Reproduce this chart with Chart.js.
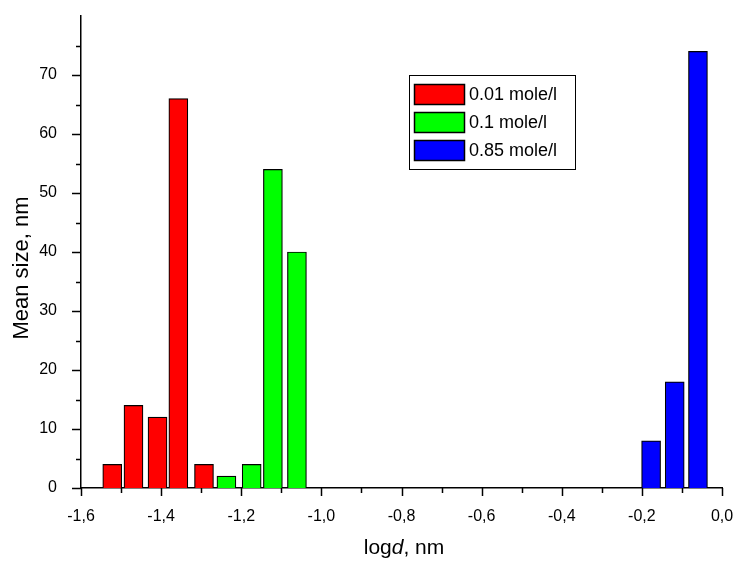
<!DOCTYPE html>
<html>
<head>
<meta charset="utf-8">
<script src="https://cdn.jsdelivr.net/npm/chart.js@4"></script>
<style>
  html, body { margin: 0; padding: 0; background: #fff; }
  #wrap { width: 736px; height: 562px; }
</style>
</head>
<body>
<div id="wrap"><canvas id="myChart" width="736" height="562"></canvas></div>
<script>
// log d positions (bar centres) and mean sizes
const redX = [-1.522, -1.469, -1.409, -1.357, -1.293];
const redY = [4, 14, 12, 66, 4];
const greenX = [-1.237, -1.174, -1.121, -1.061];
const greenY = [2, 4, 54, 40];
const blueX = [-0.177, -0.118, -0.060];
const blueY = [8, 18, 74];
const seriesNames = ['0.01 mole/l', '0.1 mole/l', '0.85 mole/l'];
const xTicks = [-1.6, -1.4, -1.2, -1.0, -0.8, -0.6, -0.4, -0.2, 0.0];
const yTicks = [0, 10, 20, 30, 40, 50, 60, 70];

const FONT = 'Liberation Sans, Arial, sans-serif';

function pts(xs, ys) {
    return xs.map((x, i) => ({ x: x, y: ys[i] }));
}

// axis ticks (major + minor), axis titles, legend box
const decorations = {
    id: 'decorations',
    afterDraw(chart) {
        const c = chart.ctx;
        const xs = chart.scales.x, ys = chart.scales.y;
        const area = chart.chartArea;
        c.save();
        c.strokeStyle = '#000';
        c.lineWidth = 1.5;
        for (let i = 0; i <= 16; i++) {
            const v = -1.6 + i * 0.1;
            const px = Math.round(xs.getPixelForValue(v)) + 0.5;
            const len = i % 2 === 0 ? 8 : 5;
            c.beginPath();
            c.moveTo(px, area.bottom);
            c.lineTo(px, area.bottom + len);
            c.stroke();
        }
        for (let i = 0; i <= 15; i++) {
            const py = Math.round(ys.getPixelForValue(i * 5)) + 0.5;
            const len = i % 2 === 0 ? 9 : 5;
            c.beginPath();
            c.moveTo(area.left, py);
            c.lineTo(area.left - len, py);
            c.stroke();
        }

        // x title with italic d
        c.fillStyle = '#000';
        c.textBaseline = 'middle';
        const fx = '21px ' + FONT, fxi = 'italic 21px ' + FONT;
        c.font = fx;
        const w1 = c.measureText('log').width, w3 = c.measureText(', nm').width;
        c.font = fxi;
        const w2 = c.measureText('d').width;
        const x0 = 404 - (w1 + w2 + w3) / 2;
        const ty = 548;
        c.textAlign = 'left';
        c.font = fx;
        c.fillText('log', x0, ty);
        c.font = fxi;
        c.fillText('d', x0 + w1, ty);
        c.font = fx;
        c.fillText(', nm', x0 + w1 + w2, ty);

        // y title
        c.save();
        c.translate(22, 268);
        c.rotate(-Math.PI / 2);
        c.textAlign = 'center';
        c.font = '22px ' + FONT;
        c.fillText('Mean size, nm', 0, 0);
        c.restore();

        // legend
        c.lineWidth = 1;
        c.strokeRect(409.5, 75.5, 166, 94);
        c.font = '18px ' + FONT;
        c.textAlign = 'left';
        chart.data.datasets.forEach((ds, i) => {
            const sy = 84 + i * 28;
            c.fillStyle = ds.backgroundColor;
            c.fillRect(414, sy, 50, 20);
            c.strokeStyle = '#000';
            c.lineWidth = 1.5;
            c.strokeRect(414.5, sy + 0.5, 50, 20);
            c.fillStyle = '#000';
            c.fillText(ds.label, 469, sy + 11);
        });
        c.restore();
    }
};

const ctx = document.getElementById('myChart').getContext('2d');
const myChart = new Chart(ctx, {
    type: 'bar',
    data: {
        datasets: [{
            label: seriesNames[0],
            data: pts(redX, redY),
            backgroundColor: '#ff0000',
            borderColor: '#000',
            borderWidth: 1.2
        }, {
            label: seriesNames[1],
            data: pts(greenX, greenY),
            backgroundColor: '#00ff00',
            borderColor: '#000',
            borderWidth: 1.2
        }, {
            label: seriesNames[2],
            data: pts(blueX, blueY),
            backgroundColor: '#0000ff',
            borderColor: '#000',
            borderWidth: 1.2
        }]
    },
    options: {
        responsive: false,
        animation: false,
        devicePixelRatio: 1,
        grouped: false,
        barThickness: 19,
        layout: { padding: { top: 16, right: 14, left: 0, bottom: 0 } },
        plugins: {
            legend: { display: false },
            tooltip: { enabled: false }
        },
        scales: {
            x: {
                type: 'linear',
                offset: false,
                min: -1.6,
                max: 0,
                afterFit(scale) {
                    scale.height = 74;
                    scale.paddingLeft = 0;
                    scale.paddingRight = 0;
                },
                afterBuildTicks(scale) { scale.ticks = xTicks.map(v => ({ value: v })); },
                grid: { display: false },
                border: { display: true, color: '#000', width: 1.5 },
                ticks: {
                    padding: 11,
                    color: '#000',
                    font: { family: FONT, size: 16 },
                    maxRotation: 0,
                    autoSkip: false,
                    callback: v => v.toFixed(1).replace('.', ',')
                }
            },
            y: {
                min: 0,
                max: 80,
                afterFit(scale) {
                    scale.width = 81;
                    scale.paddingTop = 0;
                    scale.paddingBottom = 0;
                },
                afterBuildTicks(scale) { scale.ticks = yTicks.map(v => ({ value: v })); },
                grid: { display: false },
                border: { display: true, color: '#000', width: 1.5 },
                ticks: {
                    padding: 16,
                    color: '#000',
                    font: { family: FONT, size: 16 },
                    callback: v => String(v)
                }
            }
        }
    },
    plugins: [decorations]
});
</script>
</body>
</html>
